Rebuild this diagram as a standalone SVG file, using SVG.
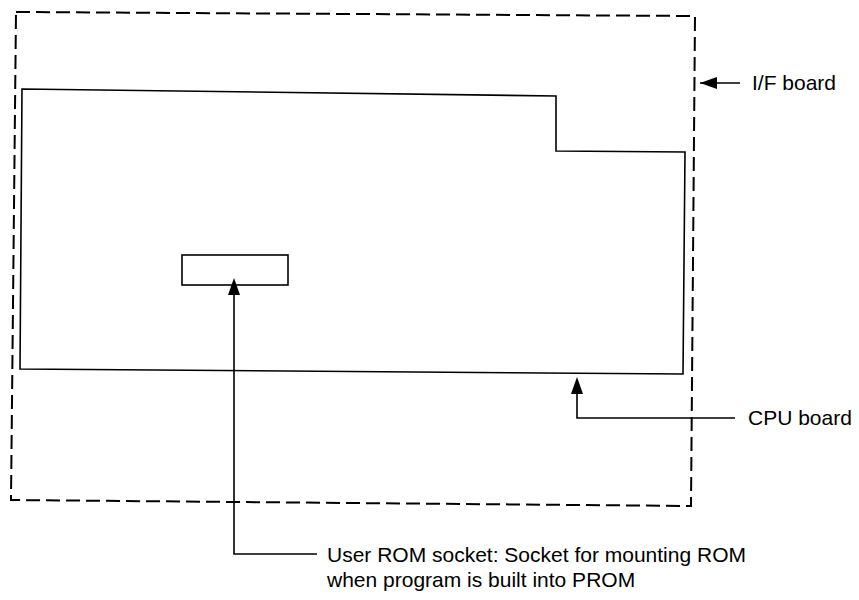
<svg xmlns="http://www.w3.org/2000/svg" width="859" height="600" viewBox="0 0 859 600">
<defs>
<style>
.ln{fill:none;stroke:#000;stroke-width:1.6}
.dash{fill:none;stroke:#000;stroke-width:2;stroke-dasharray:14 6}
.t{font-family:"Liberation Sans",Arial,sans-serif;font-size:21px;fill:#000}
</style>
<marker id="ah" viewBox="0 0 12 17" refX="6" refY="0" markerWidth="12" markerHeight="17" markerUnits="userSpaceOnUse" orient="auto-start-reverse">
<path d="M6 0 L12 17 L0 17 Z" fill="#000"/>
</marker>
<marker id="al" viewBox="0 0 17 12" refX="0" refY="6" markerWidth="17" markerHeight="12" markerUnits="userSpaceOnUse" orient="0">
<path d="M0 6 L17 0 L17 12 Z" fill="#000"/>
</marker>
</defs>
<rect width="859" height="600" fill="#fff"/>
<g id="if-board">
<path class="dash" d="M16 12 L695 16 L691 506 L11 500 Z"/>
</g>
<g id="cpu-board">
<path class="ln" d="M22 89 L556 96 L556 151 L685 152 L683 374 L20 369 Z"/>
</g>
<g id="rom-socket">
<rect class="ln" x="182" y="255" width="106" height="30"/>
</g>
<g id="connectors">
<path class="ln" d="M740 83 L700 83" marker-end="url(#al)"/>
<path class="ln" d="M735 418 L577 418 L577 380"/>
<path d="M577 377 L583 394 L571 394 Z" fill="#000"/>
<path class="ln" d="M317 554 L234 554 L234 290"/>
<path d="M234 278 L240 295 L228 295 Z" fill="#000"/>
</g>
<g id="labels">
<text class="t" x="752" y="90">I/F board</text>
<text class="t" x="748" y="425">CPU board</text>
<text class="t" x="327" y="562">User ROM socket: Socket for mounting ROM</text>
<text class="t" x="327" y="587">when program is built into PROM</text>
</g>
</svg>
